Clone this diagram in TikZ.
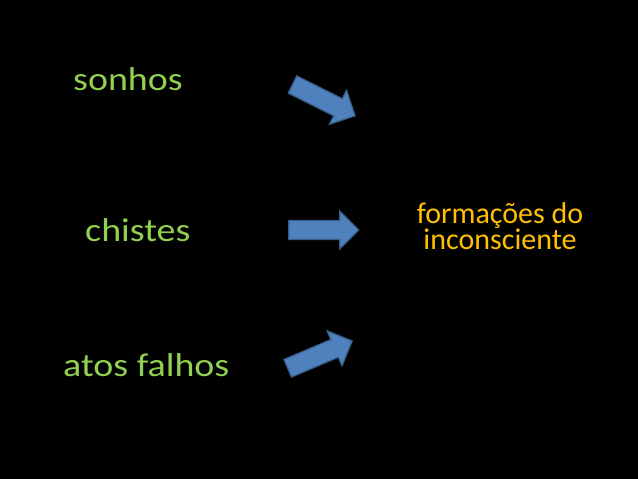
\documentclass[tikz,border=0pt]{standalone}
\usepackage{fontspec}
\setmainfont{Carlito}
\newfontfamily\widefont[FakeStretch=1.15]{Carlito}
\usetikzlibrary{shapes.arrows}
\definecolor{slidegreen}{RGB}{146,208,80}
\definecolor{slideorange}{RGB}{255,192,0}
\definecolor{arrowfill}{RGB}{79,129,189}
\definecolor{arrowline}{RGB}{56,93,138}
\begin{document}
\begin{tikzpicture}[x=1pt,y=1pt]
  \tikzset{
    word/.style={text=slidegreen,font=\widefont\fontsize{33}{30}\selectfont,inner sep=0pt,anchor=base west},
    goal/.style={text=slideorange,font=\fontsize{30}{26}\selectfont,inner sep=0pt,align=center,anchor=base},
    blockarrow/.style={single arrow,fill=arrowfill,draw=arrowline,line width=1.2pt,
      text height=0pt,text depth=0pt,inner xsep=0pt,inner ysep=9pt,
      single arrow head extend=9.5pt,single arrow head indent=0pt,minimum height=70pt},
  }
  \fill[black] (0,0) rectangle (638,479);
  \node[word] (sonhos)  at (73,388) {sonhos};
  \node[word] (chistes) at (85,237) {chistes};
  \node[word] (atos)    at (63,102) {atos falhos};
  \node[goal] (form)    at (500,229) {formações do\\inconsciente};
  \node[blockarrow,rotate=-26.6] (a1) at (319.5,381) {};
  \node[blockarrow]              (a2) at (319,249) {};
  \node[blockarrow,rotate=23]    (a3) at (315.5,122.5) {};
\end{tikzpicture}
\end{document}
